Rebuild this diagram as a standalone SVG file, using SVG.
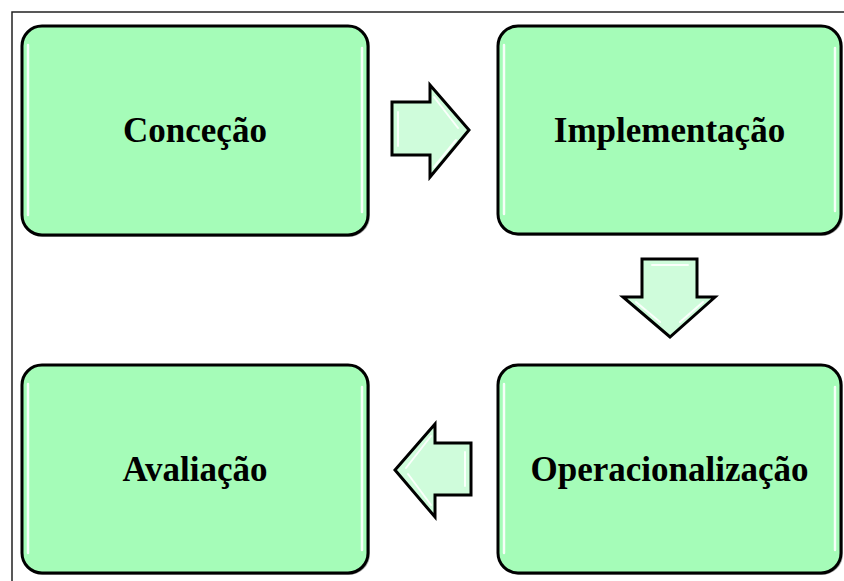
<svg xmlns="http://www.w3.org/2000/svg" width="844" height="581" viewBox="0 0 844 581">
  <defs>
    <style>
      .box { fill: #a5fcb8; stroke: #000; stroke-width: 3; }
      .shadow { fill: none; stroke: #555; stroke-width: 2; opacity: 0.5; }
      .gloss { stroke: #ffffff; stroke-width: 2.5; stroke-linecap: round; opacity: 0.9; }
      .arrow { fill: #cffcdb; stroke: #000; stroke-width: 3; stroke-linejoin: miter; }
      .agloss { stroke: #ffffff; stroke-width: 2; stroke-linecap: round; opacity: 0.9; fill: none; }
      .label { font-family: "Liberation Serif", "Times New Roman", serif; font-weight: bold; font-size: 35px; fill: #000; text-anchor: middle; }
      .frame { fill: none; stroke: #222; stroke-width: 1.5; }
    </style>
  </defs>
  <rect x="0" y="0" width="844" height="581" fill="#ffffff"/>
  <path class="frame" d="M12,581 L12,12 L844,12"/>

  <g id="node-concecao">
    <rect class="shadow" x="23" y="27" width="346" height="209" rx="20" ry="20"/>
    <rect class="box" x="22" y="26" width="346" height="209" rx="20" ry="20"/>
    <line class="gloss" x1="28" y1="45" x2="28" y2="215"/>
    <line class="gloss" x1="362" y1="48" x2="362" y2="212"/>
    <text class="label" x="195" y="142">Conceção</text>
  </g>

  <g id="node-implementacao">
    <rect class="shadow" x="499" y="27" width="343" height="208" rx="20" ry="20"/>
    <rect class="box" x="498" y="26" width="343" height="208" rx="20" ry="20"/>
    <line class="gloss" x1="504" y1="45" x2="504" y2="214"/>
    <line class="gloss" x1="835" y1="48" x2="835" y2="211"/>
    <text class="label" x="669.5" y="142">Implementação</text>
  </g>

  <g id="node-operacionalizacao">
    <rect class="shadow" x="499" y="366" width="343" height="208" rx="20" ry="20"/>
    <rect class="box" x="498" y="365" width="343" height="208" rx="20" ry="20"/>
    <line class="gloss" x1="504" y1="384" x2="504" y2="553"/>
    <line class="gloss" x1="835" y1="387" x2="835" y2="550"/>
    <text class="label" x="669.5" y="481">Operacionalização</text>
  </g>

  <g id="node-avaliacao">
    <rect class="shadow" x="23" y="366" width="346" height="208" rx="20" ry="20"/>
    <rect class="box" x="22" y="365" width="346" height="208" rx="20" ry="20"/>
    <line class="gloss" x1="28" y1="384" x2="28" y2="553"/>
    <line class="gloss" x1="362" y1="387" x2="362" y2="550"/>
    <text class="label" x="195" y="481">Avaliação</text>
  </g>

  <g id="connectors">
    <g id="arrow-right">
      <polygon class="arrow" points="392,102 430,102 430,85 469,130 430,177 430,155 392,155"/>
      <path class="agloss" d="M398,112 L398,146 M434,97 L458,128 M434,167 L456,140"/>
    </g>
    <g id="arrow-down">
      <polygon class="arrow" points="642,259 697,259 697,297 715,297 670,337 623,297 642,297"/>
      <path class="agloss" d="M652,265 L688,265 M636,302 L660,322 M703,302 L680,322"/>
    </g>
    <g id="arrow-left">
      <polygon class="arrow" points="471,443 435,443 435,424 395,470 435,517 435,495 471,495"/>
      <path class="agloss" d="M465,452 L465,486 M431,436 L406,468 M431,505 L408,474"/>
    </g>
  </g>
</svg>
